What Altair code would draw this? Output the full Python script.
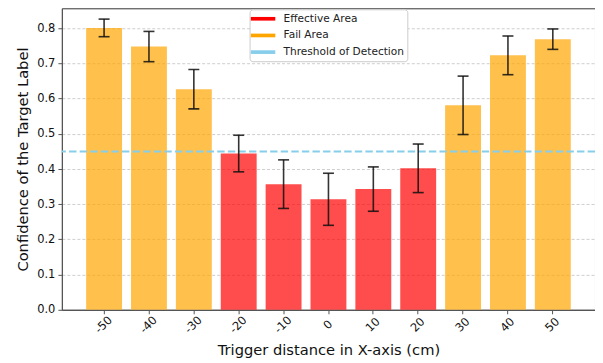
import altair as alt
import pandas as pd

distances = ["-50", "-40", "-30", "-20", "-10", "0", "10", "20", "30", "40", "50"]
means = [0.801, 0.748, 0.627, 0.444, 0.357, 0.314, 0.343, 0.402, 0.581, 0.723, 0.769]
errors = [0.025, 0.043, 0.056, 0.052, 0.069, 0.074, 0.063, 0.069, 0.083, 0.055, 0.029]
areas = ["Fail Area"] * 3 + ["Effective Area"] * 5 + ["Fail Area"] * 3
threshold = [0.45]
y_ticks = [0, 0.1, 0.2, 0.3, 0.4, 0.5, 0.6, 0.7, 0.8]
legend_labels = ["Effective Area", "Fail Area", "Threshold of Detection"]
legend_colors = ["#ff0000", "#ffa500", "#87ceeb"]

df = pd.DataFrame({
    "dist": distances,
    "mean": means,
    "lo": [m - e for m, e in zip(means, errors)],
    "hi": [m + e for m, e in zip(means, errors)],
    "area": areas,
})
thr = pd.DataFrame({"thr": threshold})

FONT = "DejaVu Sans"

x_axis = alt.Axis(
    title="Trigger distance in X-axis (cm)",
    labelAngle=-45,
    labelAlign="center",
    labelBaseline="middle",
    labelPadding=11,
    grid=False,
    tickSize=4,
    titlePadding=7,
)
y_axis = alt.Axis(
    title="Confidence of the Target Label",
    values=y_ticks,
    format=".1f",
    labelOverlap=False,
    labelPadding=3,
    grid=True,
    gridDash=[3, 2],
    gridColor="#c8c8c8",
    gridWidth=0.9,
    tickSize=4,
    titlePadding=6,
)
x_scale = alt.Scale(paddingInner=0.2, paddingOuter=0.54)
y_scale = alt.Scale(domain=[0, 0.8567], nice=False, zero=True)

def xe():
    return alt.X("dist:N", sort=distances, scale=x_scale, axis=x_axis)

bars = alt.Chart(df).mark_bar(opacity=0.7).encode(
    x=xe(),
    y=alt.Y("mean:Q", scale=y_scale, axis=y_axis),
    color=alt.Color(
        "area:N",
        scale=alt.Scale(domain=legend_labels, range=legend_colors),
        legend=alt.Legend(
            title=None,
            orient="none",
            legendX=188,
            legendY=1,
            symbolType="M-2,-0.3H2V0.3H-2Z",
            symbolSize=150,
            symbolOffset=4,
            symbolOpacity=1,
            symbolStrokeWidth=0,
            labelFont=FONT,
            labelFontSize=10.6,
            labelColor="#222",
            rowPadding=3.7,
            padding=3,
            strokeColor="#cccccc",
            fillColor="white",
            cornerRadius=3,
            labelOffset=14,
            values=legend_labels,
        ),
    ),
)

err_rule = alt.Chart(df).mark_rule(color="#111", strokeWidth=1.6, opacity=0.85).encode(
    x=xe(),
    y=alt.Y("lo:Q", scale=y_scale, axis=y_axis),
    y2="hi:Q",
)
cap_lo = alt.Chart(df).mark_tick(color="#111", thickness=1.6, size=11, opacity=0.85).encode(
    x=xe(),
    y=alt.Y("lo:Q", scale=y_scale, axis=y_axis),
)
cap_hi = alt.Chart(df).mark_tick(color="#111", thickness=1.6, size=11, opacity=0.85).encode(
    x=xe(),
    y=alt.Y("hi:Q", scale=y_scale, axis=y_axis),
)

thr_line = alt.Chart(thr).mark_rule(color="#87ceeb", strokeWidth=2, strokeDash=[7.4, 3.2]).encode(
    y=alt.Y("thr:Q", scale=y_scale, axis=y_axis),
)

chart = alt.layer(bars, thr_line, err_rule, cap_lo, cap_hi).properties(
    width=534,
    height=302,
    autosize=alt.AutoSizeParams(type="none"),
    padding={"left": 54, "top": 0, "right": 0, "bottom": 50},
).configure_view(
    stroke="#333", strokeWidth=1
).configure_axis(
    labelFont=FONT,
    titleFont=FONT,
    labelFontSize=11.5,
    titleFontSize=14.7,
    titleFontWeight="normal",
    labelColor="#111",
    titleColor="#111",
    domainColor="#555",
    tickColor="#555",
    domainWidth=1.2,
)

chart.save("out.html", embed_options={"renderer": "svg", "actions": False})
